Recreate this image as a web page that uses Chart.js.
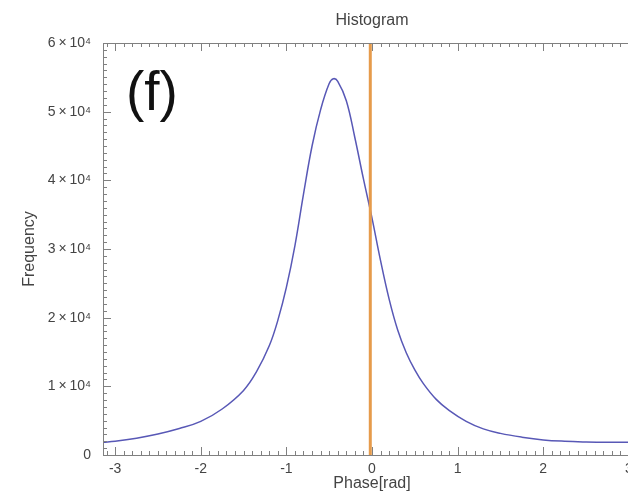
<!DOCTYPE html>
<html><head><meta charset="utf-8">
<script src="https://cdn.jsdelivr.net/npm/chart.js@4"></script>
<style>html,body{margin:0;padding:0;background:#fff;overflow:hidden}
#wrap{position:relative;width:660px;height:498px}</style>
</head><body><div id="wrap"><canvas id="c"></canvas></div>
<script>
const phase = [-3.14,-3.0,-2.75,-2.5,-2.25,-2.0,-1.75,-1.5,-1.35,-1.2,-1.1,-1.0,-0.9,-0.8,-0.7,-0.6,-0.5,-0.45,-0.4,-0.3,-0.2,-0.1,0,0.1,0.2,0.3,0.4,0.5,0.6,0.75,0.9,1.1,1.3,1.5,1.75,2.0,2.25,2.5,2.75,3.0,3.14];
const frequency = [1850,2000,2450,3050,3850,4900,6700,9400,12100,15900,19600,24400,30500,38000,45000,50300,54100,54800,54400,51600,46200,40200,34500,28300,22700,18200,14900,12400,10400,8100,6500,4900,3800,3150,2600,2200,2000,1900,1850,1850,1850];
const xTickValues = [-3,-2,-1,0,1,2,3];
const yTickValues = [0,10000,20000,30000,40000,50000,60000];
const markerPhase = [-0.02,-0.02];
const markerFreq = [0,60000];
const xMinorStep = 0.1;
const yMinorStep = 1000;
const panelLabel = '(f)';

const FONT = '"Liberation Sans", Arial, sans-serif';

const framePlugin = {
  id: 'frame',
  afterDatasetsDraw(chart) {
    const {ctx, chartArea: a, scales: {x, y}} = chart;
    ctx.save();
    ctx.strokeStyle = '#808080';
    ctx.lineWidth = 1;
    ctx.strokeRect(a.left + 0.5, a.top + 0.5, a.right - a.left, a.bottom - a.top);
    ctx.beginPath();
    const nx = Math.round(3.1 / xMinorStep);
    for (let i = -nx; i <= nx; i++) {
      const px = Math.round(x.getPixelForValue(i * xMinorStep)) + 0.5;
      const L = (i % 10 === 0) ? 8 : 4;
      ctx.moveTo(px, a.bottom); ctx.lineTo(px, a.bottom - L);
      ctx.moveTo(px, a.top); ctx.lineTo(px, a.top + L);
    }
    const ny = Math.round(60000 / yMinorStep);
    for (let i = 0; i <= ny; i++) {
      const py = Math.round(y.getPixelForValue(i * yMinorStep)) + 0.5;
      const L = (i % 10 === 0) ? 8 : 4;
      ctx.moveTo(a.left, py); ctx.lineTo(a.left + L, py);
      ctx.moveTo(a.right, py); ctx.lineTo(a.right - L, py);
    }
    ctx.stroke();
    ctx.font = '55px ' + FONT;
    ctx.fillStyle = '#111';
    ctx.textBaseline = 'alphabetic';
    ctx.fillText(panelLabel, a.left + 23, a.top + 67);
    ctx.restore();
  }
};

new Chart(document.getElementById('c'), {
  type: 'line',
  data: {
    datasets: [
      {
        data: markerPhase.map((p, i) => ({x: p, y: markerFreq[i]})),
        borderColor: 'rgb(230,155,75)',
        borderWidth: 3,
        pointRadius: 0,
        order: 0
      },
      {
        data: phase.map((p, i) => ({x: p, y: frequency[i]})),
        borderColor: 'rgb(88,88,182)',
        borderWidth: 1.5,
        pointRadius: 0,
        tension: 0.4,
        order: 1
      }
    ]
  },
  options: {
    responsive: true,
    maintainAspectRatio: false,
    animation: false,
    layout: {padding: {left: 0, right: 19, top: 0, bottom: 0}},
    plugins: {
      legend: {display: false},
      tooltip: {enabled: false},
      title: {
        display: true,
        text: 'Histogram',
        fullSize: false,
        color: '#444',
        font: {family: FONT, size: 16, weight: 'normal'},
        padding: {top: 10.5, bottom: 13.3}
      }
    },
    scales: {
      x: {
        type: 'linear',
        min: -Math.PI,
        max: Math.PI,
        grid: {display: false, drawTicks: false},
        border: {display: false},
        afterBuildTicks: s => { s.ticks = xTickValues.map(v => ({value: v})); },
        afterFit: s => { s.height = 43; },
        ticks: {
          color: '#444',
          font: {family: FONT, size: 14},
          padding: 6,
          maxRotation: 0,
          callback: v => String(v)
        },
        title: {
          display: true,
          text: 'Phase[rad]',
          color: '#444',
          font: {family: FONT, size: 16},
          padding: {top: 0, bottom: 5}
        }
      },
      y: {
        type: 'linear',
        min: 0,
        max: 60000,
        grid: {display: false, drawTicks: false},
        border: {display: false},
        afterBuildTicks: s => { s.ticks = yTickValues.map(v => ({value: v})); },
        afterFit: s => { s.width = 103; },
        ticks: {
          color: '#444',
          font: {family: FONT, size: 14},
          padding: 12,
          callback: v => v === 0 ? '0' : (v / 10000) + '\u2009\u00d7\u200910\u2074'
        },
        title: {
          display: true,
          text: 'Frequency',
          color: '#444',
          font: {family: FONT, size: 16},
          padding: {top: 20.4, bottom: 0}
        }
      }
    }
  },
  plugins: [framePlugin]
});
</script>
</body></html>
